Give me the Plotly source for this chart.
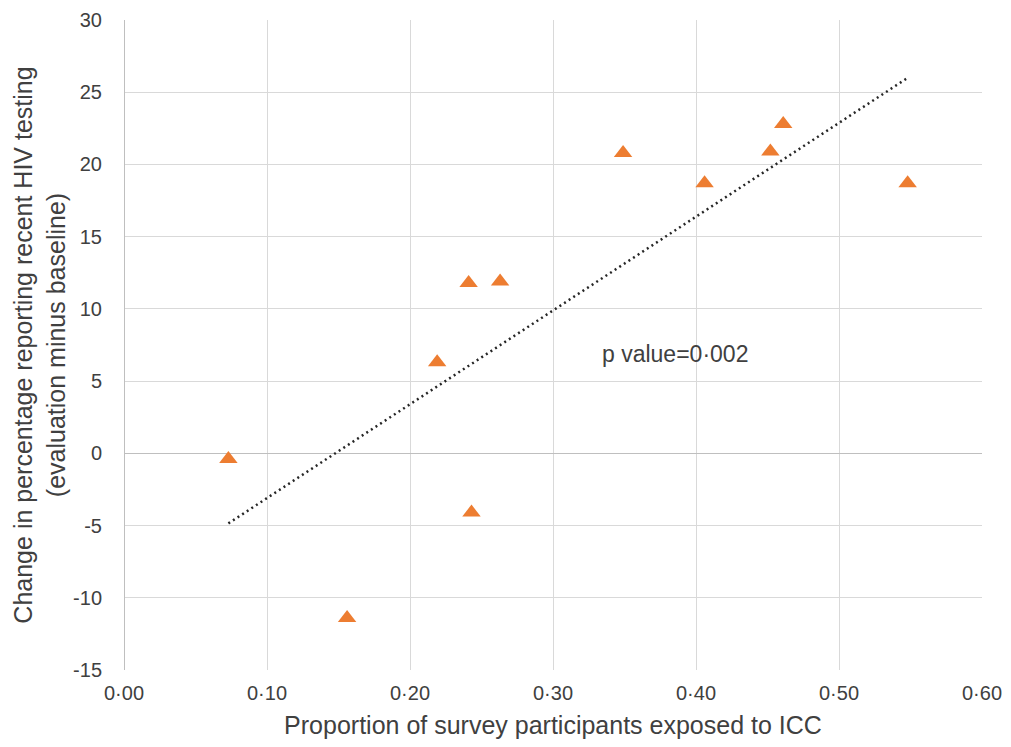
import numpy as np
import plotly.graph_objects as go

# Data
exposure = [0.073, 0.156, 0.219, 0.241, 0.243, 0.263, 0.349, 0.406, 0.452, 0.461, 0.548]
change = [-0.4, -11.4, 6.3, 11.8, -4.1, 11.9, 20.8, 18.7, 20.9, 22.8, 18.7]

x_tickvals = [0.0, 0.1, 0.2, 0.3, 0.4, 0.5, 0.6]
x_ticktext = ["0·00", "0·10", "0·20", "0·30", "0·40", "0·50", "0·60"]
y_tickvals = [-15, -10, -5, 0, 5, 10, 15, 20, 25, 30]
y_ticktext = ["-15", "-10", "-5", "0", "5", "10", "15", "20", "25", "30"]

p_label = "p value=0·002"

# linear trend (least squares) across observed range
slope, intercept = np.polyfit(exposure, change, 1)
trend_x = [min(exposure), max(exposure)]
trend_y = [slope * v + intercept for v in trend_x]

font_family = "Liberation Sans, Arial, sans-serif"
text_color = "#404040"

fig = go.Figure()
fig.add_trace(go.Scatter(
    x=trend_x, y=trend_y, mode="lines",
    line=dict(color="#262626", width=2.5, dash="2px,3.5px"),
    hoverinfo="skip", showlegend=False,
))
fig.add_trace(go.Scatter(
    x=exposure, y=change, mode="markers",
    marker=dict(symbol="triangle-up", size=16, color="#ED7D31"),
    showlegend=False,
))

fig.add_annotation(
    x=0.333, y=6.9, xref="x", yref="y", text=p_label, showarrow=False,
    xanchor="left", yanchor="middle",
    font=dict(family=font_family, size=23, color=text_color),
)

fig.update_layout(
    width=995, height=731,
    margin=dict(l=116, r=21, t=12, b=69),
    paper_bgcolor="white", plot_bgcolor="white",
    font=dict(family=font_family, size=20, color=text_color),
)
fig.update_xaxes(
    range=[0, 0.6], tickvals=x_tickvals, ticktext=x_ticktext,
    automargin=False,
    showgrid=True, gridcolor="#d9d9d9", gridwidth=1,
    zeroline=True, zerolinecolor="#bfbfbf", zerolinewidth=1,
    showline=False, ticks="", ticklabelstandoff=9,
    tickfont=dict(size=20, color=text_color),
    title=dict(text="Proportion of survey participants exposed to ICC",
               font=dict(size=25, color=text_color), standoff=13),
)
fig.update_yaxes(
    range=[-15, 30], tickvals=y_tickvals, ticktext=y_ticktext,
    automargin=False,
    showgrid=True, gridcolor="#d9d9d9", gridwidth=1,
    zeroline=True, zerolinecolor="#bfbfbf", zerolinewidth=1,
    showline=False, ticks="", ticklabelstandoff=21,
    tickfont=dict(size=20, color=text_color),
    title=dict(text="Change in percentage reporting recent HIV testing<br>(evaluation minus baseline)",
               font=dict(size=25, color=text_color), standoff=0),
)

fig.write_html("out.html")
